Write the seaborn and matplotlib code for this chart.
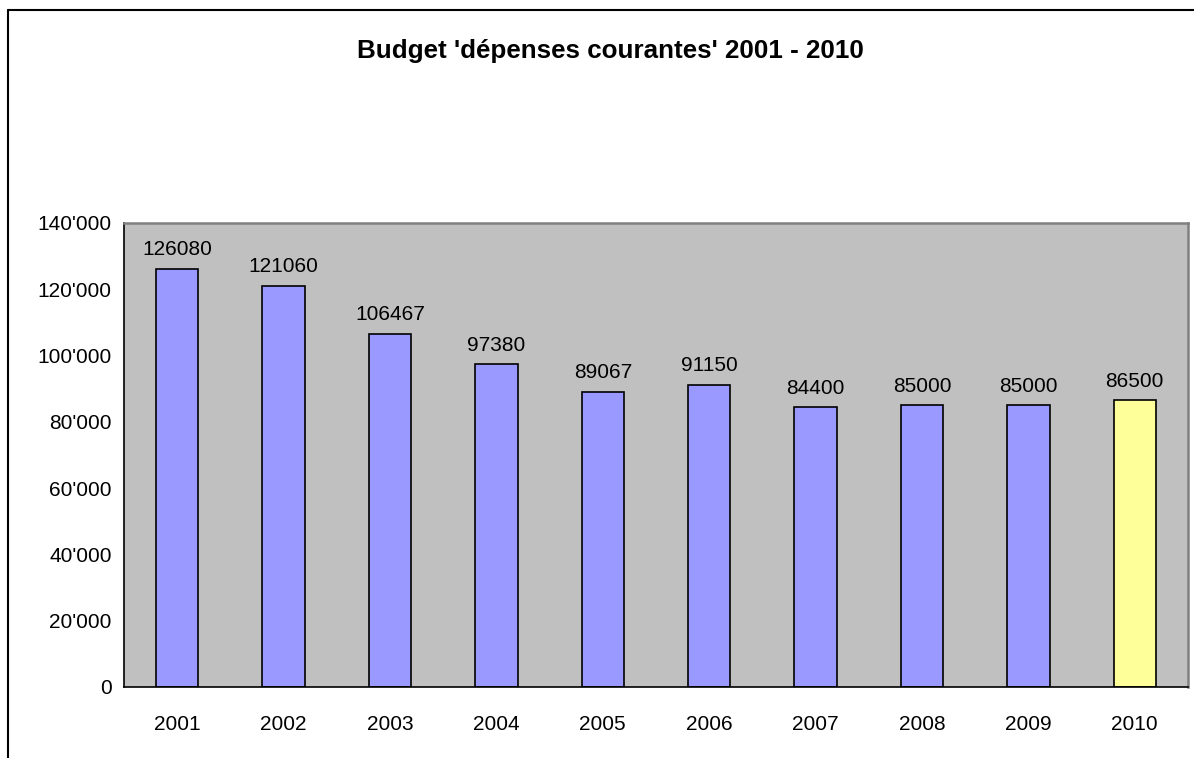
import matplotlib
matplotlib.use("Agg")
import matplotlib.pyplot as plt
from matplotlib.lines import Line2D
from matplotlib.ticker import FuncFormatter
import numpy as np
import pandas as pd
import seaborn as sns

# Data
YEARS = ["2001", "2002", "2003", "2004", "2005", "2006", "2007", "2008", "2009", "2010"]
VALUES = [126080, 121060, 106467, 97380, 89067, 91150, 84400, 85000, 85000, 86500]
BAR_COLORS = ["#9999FF"] * 9 + ["#FFFF99"]
TITLE = "Budget 'dépenses courantes' 2001 - 2010"

sns.set_style("white")
plt.rcParams["font.family"] = ["Liberation Sans", "DejaVu Sans"]
plt.rcParams["text.color"] = "black"
plt.rcParams["xtick.color"] = "black"
plt.rcParams["ytick.color"] = "black"

df = pd.DataFrame({"year": YEARS, "value": VALUES})

fig = plt.figure(figsize=(11.94, 7.58), dpi=100)
ax = fig.add_axes([124 / 1194, 1 - 687 / 758, (1188 - 124) / 1194, (687 - 223) / 758])
ax.set_facecolor("#C0C0C0")

sns.barplot(
    data=df, x="year", y="value", hue="year", palette=BAR_COLORS, saturation=1,
    width=0.4, edgecolor="black", linewidth=1.2, legend=False, ax=ax,
)

ax.set_ylim(0, 140000)
ax.set_yticks(np.arange(0, 140001, 20000))
ax.yaxis.set_major_formatter(FuncFormatter(lambda v, _: f"{int(v):,}".replace(",", "'")))
ax.set_xlim(-0.5, len(YEARS) - 0.5)

# ticks between categories, labels in the centre
ax.set_xticks(np.arange(-0.5, len(YEARS), 1), minor=True)
ax.tick_params(axis="x", which="major", length=0, pad=20, labelsize=15)
ax.tick_params(axis="x", which="minor", length=7, width=1, color="black", direction="out")
ax.tick_params(axis="y", length=6, width=1, color="black", direction="out", labelsize=15, pad=3)
ax.set_xlabel("")
ax.set_ylabel("")

for side in ["left", "bottom"]:
    ax.spines[side].set_color("black")
    ax.spines[side].set_linewidth(1.2)
for side in ["top", "right"]:
    ax.spines[side].set_color("#808080")
    ax.spines[side].set_linewidth(1.8)

for i, v in enumerate(VALUES):
    ax.annotate(str(v), (i, v), xytext=(0, 7), textcoords="offset points",
                ha="center", va="bottom", fontsize=15)

fig.text(610 / 1194, 1 - 51 / 758, TITLE, ha="center", va="center",
         fontsize=18.7, fontweight="bold")

# chart area border (top and left visible)
fig.add_artist(Line2D([8 / 1194, 1.0], [1 - 10 / 758] * 2, color="black", lw=1.5,
                      transform=fig.transFigure))
fig.add_artist(Line2D([8 / 1194] * 2, [0.0, 1 - 10 / 758], color="black", lw=1.5,
                      transform=fig.transFigure))

fig.savefig("out.png", dpi=100)
